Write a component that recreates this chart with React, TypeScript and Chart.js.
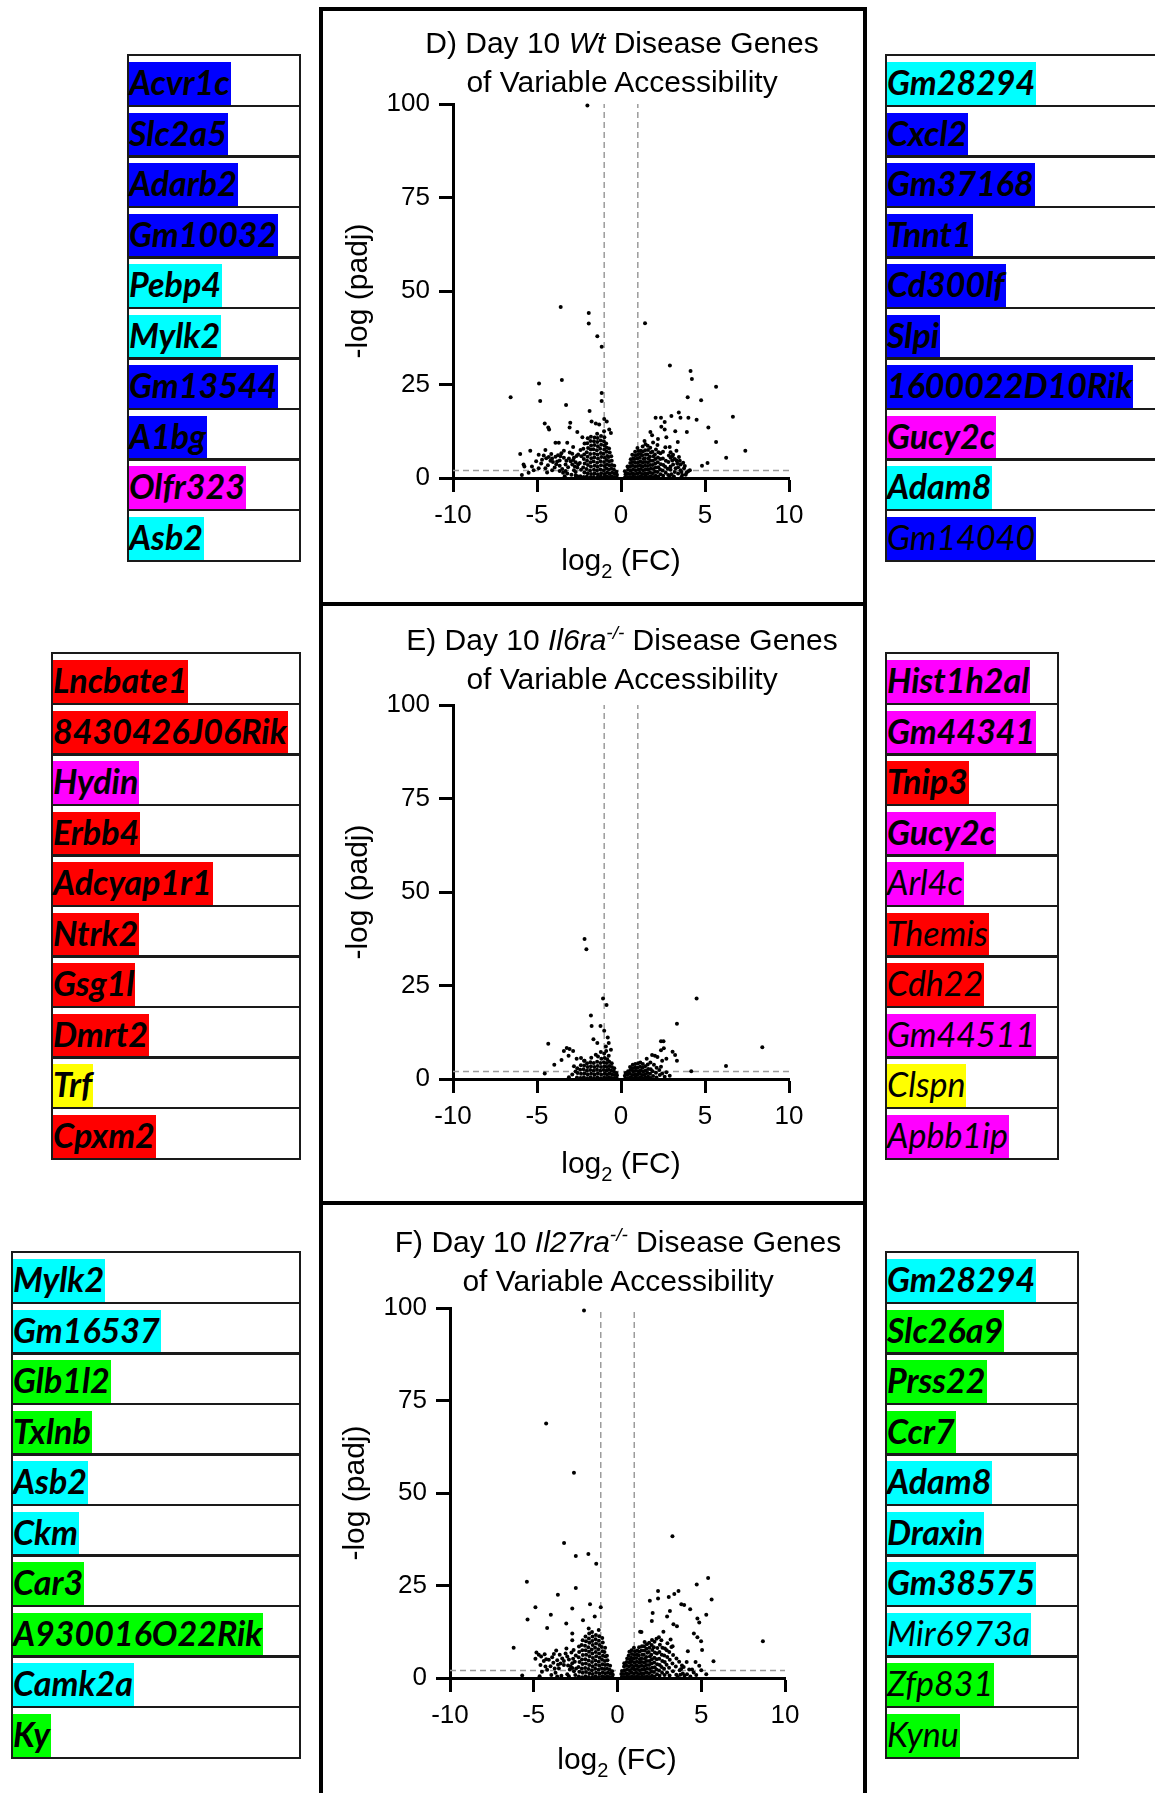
import React, { useEffect, useRef } from 'react';
import { Chart, registerables } from 'chart.js';

Chart.register(...registerables);

// ---------------- axis values ----------------
const X_MIN = -10;
const X_MAX = 10;
const X_STEP = 5;
const Y_MIN = 0;
const Y_MAX = 100;
const Y_STEP = 25;
const FC_CUTS = [-1, 1];
const P_CUT = 2;

// ---------------- gene tables ----------------
const dLeftGenes = ['Acvr1c', 'Slc2a5', 'Adarb2', 'Gm10032', 'Pebp4', 'Mylk2', 'Gm13544', 'A1bg', 'Olfr323', 'Asb2'];
const dLeftColors = ['B', 'B', 'B', 'B', 'C', 'C', 'B', 'B', 'M', 'C'];
const dLeftBold = [1, 1, 1, 1, 1, 1, 1, 1, 1, 1];

const dRightGenes = ['Gm28294', 'Cxcl2', 'Gm37168', 'Tnnt1', 'Cd300lf', 'Slpi', '1600022D10Rik', 'Gucy2c', 'Adam8', 'Gm14040'];
const dRightColors = ['C', 'B', 'B', 'B', 'B', 'B', 'B', 'M', 'C', 'B'];
const dRightBold = [1, 1, 1, 1, 1, 1, 1, 1, 1, 0];

const eLeftGenes = ['Lncbate1', '8430426J06Rik', 'Hydin', 'Erbb4', 'Adcyap1r1', 'Ntrk2', 'Gsg1l', 'Dmrt2', 'Trf', 'Cpxm2'];
const eLeftColors = ['R', 'R', 'M', 'R', 'R', 'R', 'R', 'R', 'Y', 'R'];
const eLeftBold = [1, 1, 1, 1, 1, 1, 1, 1, 1, 1];

const eRightGenes = ['Hist1h2al', 'Gm44341', 'Tnip3', 'Gucy2c', 'Arl4c', 'Themis', 'Cdh22', 'Gm44511', 'Clspn', 'Apbb1ip'];
const eRightColors = ['M', 'M', 'R', 'M', 'M', 'R', 'R', 'M', 'Y', 'M'];
const eRightBold = [1, 1, 1, 1, 0, 0, 0, 0, 0, 0];

const fLeftGenes = ['Mylk2', 'Gm16537', 'Glb1l2', 'Txlnb', 'Asb2', 'Ckm', 'Car3', 'A930016O22Rik', 'Camk2a', 'Ky'];
const fLeftColors = ['C', 'C', 'G', 'G', 'C', 'C', 'G', 'G', 'C', 'G'];
const fLeftBold = [1, 1, 1, 1, 1, 1, 1, 1, 1, 1];

const fRightGenes = ['Gm28294', 'Slc26a9', 'Prss22', 'Ccr7', 'Adam8', 'Draxin', 'Gm38575', 'Mir6973a', 'Zfp831', 'Kynu'];
const fRightColors = ['C', 'G', 'G', 'G', 'C', 'C', 'C', 'C', 'G', 'G'];
const fRightBold = [1, 1, 1, 1, 1, 1, 1, 0, 0, 0];

// ---------------- volcano data: [log2FC, -log padj] ----------------
const dOutliers = [
  [-2.0, 99.6], [-3.59, 45.7], [-1.92, 44.1], [-1.92, 41.3], [-1.41, 37.9], [-1.15, 35.1], [1.43, 41.4],
  [2.91, 30.1], [4.14, 28.6], [4.22, 26.5], [5.66, 24.4], [-3.52, 26.2], [-4.88, 25.3], [-6.57, 21.6],
  [-4.81, 20.6], [-3.27, 19.5], [-1.15, 22.7], [-1.15, 20.6], [3.97, 21.6], [4.77, 20.8], [6.66, 16.4],
  [5.2, 13.5], [5.66, 9.6], [6.26, 5.4], [7.4, 7.3], [5.15, 4.0], [4.82, 3.3], [-4.54, 14.6], [-4.33, 13.5],
  [-4.28, 13.0], [-3.02, 14.8], [-3.06, 13.5], [-1.87, 17.9], [3.44, 17.5], [3.54, 16.1], [4.01, 16.1],
  [4.5, 15.6], [3.23, 12.5], [3.92, 12.3], [3.38, 9.6], [2.06, 16.1], [2.38, 16.1], [3.0, 16.6], [2.6, 15.0],
  [1.75, 12.3], [2.4, 13.7], [2.6, 13.0], [2.7, 10.9], [1.85, 11.4], [1.4, 9.9], [2.2, 10.4], [-2.6, 12.3],
  [-2.3, 10.9], [-1.75, 15.1], [-1.5, 14.6], [-1.3, 14.3], [-1.0, 15.8], [-0.85, 15.1], [-0.7, 13.0],
  [-0.6, 12.0], [-3.7, 9.4], [-3.9, 9.4], [-3.2, 9.4], [-2.85, 8.3], [-3.4, 7.3],
];
const dLeftSparse = [
  [-6.0, 6.4], [-5.4, 7.3], [-5.8, 3.6], [-5.75, 3.1], [-5.9, 0.8], [-5.3, 3.1], [-5.2, 2.1], [-4.9, 6.2],
  [-4.5, 7.5], [-4.3, 5.6], [-4.1, 5.2], [-3.9, 5.7], [-3.65, 4.7], [-3.4, 5.4], [-3.1, 5.2], [-2.8, 5.4],
  [-3.65, 3.3], [-3.3, 3.6], [-2.9, 3.6], [-2.7, 4.2], [-4.9, 2.6], [-4.5, 2.6], [-4.1, 2.1], [-3.65, 1.9],
  [-3.2, 1.2], [-2.7, 1.6], [-4.2, 4.6], [-3.8, 4.4], [-3.0, 4.5], [-2.6, 2.8], [-3.5, 2.4], [-4.4, 1.5],
  [-2.95, 0.9], [-3.35, 0.5], [-2.55, 6.3], [-3.05, 6.8], [-4.7, 4.9], [-5.5, 1.4], [-2.75, 3.1],
  [-3.85, 3.7], [-4.6, 6.0], [-2.6, 0.5],
  [-4.75, 3.9], [-4.35, 3.4], [-4.05, 4.3], [-3.75, 6.1], [-3.55, 6.6], [-3.25, 4.6], [-3.15, 2.9],
  [-2.85, 4.8], [-2.65, 5.9], [-2.55, 3.6], [-4.15, 6.4], [-3.95, 2.8], [-3.45, 1.4], [-2.8, 2.1],
  [-5.05, 4.5], [-4.45, 5.3], [-3.6, 5.8], [-2.9, 6.5], [-3.3, 1.9], [-2.7, 0.7],
];
const dLeftBlob = [
  [-2.42, 0.5], [-2.38, 2.2], [-2.45, 4.0], [-2.36, 5.8], [-2.41, 7.5],
  [-2.22, 0.3], [-2.18, 1.5], [-2.25, 2.8], [-2.16, 3.9], [-2.21, 5.1], [-2.19, 6.3], [-2.24, 7.8], [-2.17, 9.2],
  [-2.03, 0.4], [-1.98, 1.3], [-2.05, 2.4], [-1.97, 3.5], [-2.02, 4.6], [-1.99, 5.7], [-2.04, 6.9], [-1.96, 8.0], [-2.01, 9.3], [-1.98, 10.6],
  [-1.82, 0.2], [-1.78, 1.1], [-1.84, 2.0], [-1.79, 3.1], [-1.81, 4.2], [-1.77, 5.3], [-1.83, 6.4], [-1.8, 7.6], [-1.78, 8.7], [-1.82, 9.9], [-1.79, 11.0],
  [-1.62, 0.3], [-1.58, 1.2], [-1.61, 2.2], [-1.57, 3.3], [-1.63, 4.4], [-1.59, 5.5], [-1.6, 6.5], [-1.64, 7.7], [-1.58, 8.8], [-1.61, 9.8], [-1.57, 10.8],
  [-1.41, 0.2], [-1.38, 1.0], [-1.43, 2.0], [-1.39, 3.0], [-1.42, 4.1], [-1.37, 5.2], [-1.4, 6.3], [-1.44, 7.4], [-1.38, 8.5], [-1.41, 9.6], [-1.39, 10.7], [-1.42, 11.8],
  [-1.21, 0.4], [-1.18, 1.3], [-1.23, 2.3], [-1.19, 3.4], [-1.22, 4.5], [-1.17, 5.6], [-1.2, 6.7], [-1.24, 7.8], [-1.18, 8.9], [-1.21, 10.0], [-1.19, 11.2],
  [-1.02, 0.3], [-0.98, 1.1], [-1.03, 2.1], [-0.99, 3.2], [-1.01, 4.3], [-0.97, 5.4], [-1.04, 6.5], [-1.0, 7.6], [-0.98, 8.7], [-1.02, 9.8], [-0.99, 10.9], [-1.01, 12.5],
  [-0.86, 0.5], [-0.83, 1.5], [-0.87, 2.6], [-0.84, 3.7], [-0.85, 4.8], [-0.82, 5.9], [-0.86, 7.0], [-0.84, 8.1], [-0.88, 9.2],
  [-0.71, 0.3], [-0.68, 1.2], [-0.72, 2.3], [-0.69, 3.4], [-0.7, 4.5], [-0.73, 5.6], [-0.67, 6.8], [-0.71, 7.9],
  [-0.56, 0.4], [-0.53, 1.4], [-0.57, 2.5], [-0.54, 3.5], [-0.55, 4.6], [-0.58, 5.8],
  [-0.41, 0.3], [-0.38, 1.2], [-0.42, 2.2], [-0.4, 3.3],
  [-0.26, 0.2], [-0.24, 0.9], [-0.27, 1.7],
];
const dRightBlob = [
  [0.24, 0.2], [0.27, 1.0], [0.23, 1.8],
  [0.41, 0.3], [0.38, 1.2], [0.42, 2.2], [0.39, 3.1],
  [0.56, 0.2], [0.53, 1.1], [0.57, 2.0], [0.54, 3.0], [0.55, 4.0], [0.58, 5.0],
  [0.71, 0.4], [0.68, 1.3], [0.72, 2.3], [0.69, 3.3], [0.7, 4.3], [0.73, 5.3], [0.67, 6.2],
  [0.86, 0.2], [0.83, 1.1], [0.87, 2.1], [0.84, 3.1], [0.85, 4.1], [0.82, 5.1], [0.86, 6.1], [0.84, 7.0],
  [1.01, 0.3], [0.98, 1.2], [1.03, 2.2], [0.99, 3.2], [1.02, 4.2], [0.97, 5.2], [1.0, 6.2], [1.04, 7.2], [0.98, 8.0],
  [1.16, 0.5], [1.13, 1.4], [1.17, 2.4], [1.14, 3.4], [1.15, 4.4], [1.12, 5.4], [1.16, 6.4], [1.18, 7.3],
  [1.31, 0.2], [1.28, 1.1], [1.32, 2.1], [1.29, 3.1], [1.3, 4.1], [1.33, 5.1], [1.27, 6.1], [1.31, 7.1], [1.29, 8.4],
  [1.46, 0.4], [1.43, 1.3], [1.47, 2.3], [1.44, 3.3], [1.45, 4.3], [1.42, 5.3], [1.48, 6.3], [1.44, 7.4], [1.46, 9.0],
  [1.61, 0.3], [1.58, 1.2], [1.62, 2.2], [1.59, 3.2], [1.6, 4.2], [1.63, 5.2], [1.57, 6.3], [1.61, 7.5], [1.59, 8.6],
  [1.76, 0.5], [1.73, 1.5], [1.77, 2.5], [1.74, 3.5], [1.75, 4.6], [1.72, 5.7], [1.78, 6.8], [1.74, 8.1],
  [1.91, 0.3], [1.88, 1.3], [1.92, 2.4], [1.89, 3.5], [1.9, 4.6], [1.93, 5.8], [1.87, 7.0], [1.91, 9.5],
  [2.06, 0.6], [2.03, 1.7], [2.07, 2.8], [2.04, 3.9], [2.05, 5.1], [2.02, 6.3], [2.08, 7.6],
  [2.21, 0.4], [2.18, 1.6], [2.22, 2.9], [2.19, 4.2], [2.2, 5.5], [2.23, 6.9], [2.17, 8.8],
  [2.36, 1.0], [2.33, 2.3], [2.37, 3.7], [2.34, 5.1], [2.35, 6.6],
  [2.51, 0.6], [2.48, 2.0], [2.52, 3.5], [2.49, 5.2], [2.5, 7.0],
  [2.66, 1.4], [2.63, 3.0], [2.67, 4.6], [2.64, 8.2],
  [2.81, 0.8], [2.78, 2.5], [2.82, 4.3],
];
const dRightSparse = [
  [2.9, 8.3], [3.1, 6.2], [3.3, 4.7], [3.55, 3.6], [3.75, 2.6], [2.95, 3.1], [3.2, 1.6], [3.65, 0.8],
  [3.55, 2.1], [4.1, 2.1], [3.05, 4.7], [3.3, 7.3], [2.85, 6.0], [3.0, 1.0], [3.4, 2.9], [3.15, 0.4],
  [3.9, 1.4], [2.95, 5.4], [3.45, 5.6], [3.7, 4.1],
  [2.95, 2.2], [3.1, 3.6], [3.25, 2.6], [3.4, 1.2], [3.6, 1.6], [3.8, 3.2], [2.9, 0.3], [3.05, 5.8],
  [3.35, 3.9], [3.5, 4.6], [3.2, 5.1], [2.95, 6.9], [3.6, 0.3], [3.85, 0.9], [4.0, 1.8],
];

const eOutliers = [
  [-2.17, 37.4], [-2.06, 34.7], [-1.07, 21.5], [-0.86, 19.8], [-1.79, 17.0], [-1.75, 14.2], [-1.22, 14.2],
  [-1.0, 12.9], [-1.64, 10.6], [-1.41, 9.6], [-0.79, 11.1], [-0.73, 9.6], [-4.33, 9.4], [-3.97, 3.8],
  [-3.54, 5.1], [-3.4, 7.5], [-3.23, 8.3], [-3.06, 8.0], [-2.85, 7.5], [-3.12, 6.2], [-2.64, 5.4],
  [-2.38, 5.6], [-4.54, 1.5], [-2.17, 4.9], [-0.9, 8.7], [-0.6, 7.8], [-1.2, 7.2], [-1.5, 6.5],
  [-2.7, 2.0], [-2.9, 1.2], [-3.1, 0.5], [-2.8, 3.4],
  [4.5, 21.5], [3.33, 14.8], [8.41, 8.5], [6.25, 3.5], [4.18, 2.1], [2.38, 10.1], [2.53, 10.1],
  [2.38, 7.7], [3.07, 7.3], [3.22, 6.4], [3.33, 4.9], [2.7, 5.4], [1.85, 6.4], [2.02, 6.2], [2.17, 5.9],
  [1.53, 5.4], [1.75, 4.4], [2.38, 3.3], [2.7, 1.8], [1.96, 3.8], [2.55, 8.2], [2.45, 4.9], [2.6, 0.6],
  [2.9, 0.9], [2.45, 1.5],
];
const eLeftBlob = [
  [-2.62, 0.4], [-2.58, 1.6], [-2.6, 2.9],
  [-2.41, 0.3], [-2.38, 1.4], [-2.43, 2.5], [-2.39, 3.7],
  [-2.21, 0.5], [-2.18, 1.5], [-2.23, 2.6], [-2.19, 3.6], [-2.2, 4.9],
  [-2.01, 0.2], [-1.98, 1.2], [-2.03, 2.2], [-1.99, 3.2], [-2.02, 4.2],
  [-1.81, 0.4], [-1.78, 1.4], [-1.83, 2.4], [-1.79, 3.4], [-1.82, 4.5], [-1.77, 5.7],
  [-1.61, 0.3], [-1.58, 1.2], [-1.63, 2.2], [-1.59, 3.2], [-1.62, 4.3],
  [-1.41, 0.5], [-1.38, 1.5], [-1.43, 2.5], [-1.39, 3.5], [-1.42, 4.6], [-1.37, 6.0],
  [-1.21, 0.2], [-1.18, 1.2], [-1.23, 2.2], [-1.19, 3.2], [-1.22, 4.3], [-1.17, 5.4],
  [-1.01, 0.4], [-0.98, 1.4], [-1.03, 2.4], [-0.99, 3.4], [-1.02, 4.5], [-0.97, 5.6], [-1.0, 6.8],
  [-0.86, 0.3], [-0.83, 1.2], [-0.87, 2.2], [-0.84, 3.2], [-0.85, 4.3], [-0.82, 5.3], [-0.88, 7.5],
  [-0.71, 0.5], [-0.68, 1.5], [-0.72, 2.5], [-0.69, 3.5], [-0.7, 4.6], [-0.73, 6.2],
  [-0.56, 0.3], [-0.53, 1.2], [-0.57, 2.2], [-0.54, 3.2], [-0.55, 4.2],
  [-0.41, 0.2], [-0.38, 1.1], [-0.42, 2.0], [-0.4, 2.9],
  [-0.26, 0.3], [-0.24, 1.0], [-0.27, 1.6],
];
const eRightBlob = [
  [0.26, 0.2], [0.23, 0.9], [0.27, 1.6],
  [0.41, 0.3], [0.38, 1.2], [0.42, 2.1],
  [0.56, 0.5], [0.53, 1.4], [0.57, 2.4], [0.54, 3.2],
  [0.71, 0.2], [0.68, 1.1], [0.72, 2.0], [0.69, 2.9], [0.7, 3.8],
  [0.86, 0.4], [0.83, 1.3], [0.87, 2.2], [0.84, 3.1], [0.85, 4.0],
  [1.01, 0.3], [0.98, 1.2], [1.03, 2.1], [0.99, 3.0], [1.02, 4.2],
  [1.16, 0.5], [1.13, 1.4], [1.17, 2.3], [1.14, 3.3], [1.15, 4.4],
  [1.31, 0.2], [1.28, 1.1], [1.32, 2.0], [1.29, 3.0], [1.3, 4.0],
  [1.46, 0.4], [1.43, 1.3], [1.47, 2.3], [1.44, 3.4],
  [1.61, 0.6], [1.58, 1.6], [1.62, 2.7], [1.59, 3.9],
  [1.76, 0.3], [1.73, 1.4], [1.77, 2.6],
  [1.91, 0.8], [1.88, 2.1],
  [2.11, 0.4], [2.08, 1.7], [2.12, 3.0],
  [2.31, 1.1], [2.28, 2.4],
];

const fOutliers = [
  [-2.0, 99.3], [-4.26, 68.8], [-2.6, 55.5], [-3.19, 36.5], [-2.49, 33.0], [-1.74, 33.5], [-1.27, 30.9],
  [3.28, 38.3], [-5.41, 26.0], [-2.49, 24.3], [-3.56, 22.5], [-4.9, 19.1], [-5.37, 15.8], [-3.98, 17.1],
  [-4.2, 13.5], [-2.7, 18.8], [-1.64, 19.9], [-1.0, 19.1], [-2.06, 15.6], [-3.06, 14.7], [-1.36, 16.6],
  [-2.7, 12.0], [-2.7, 10.2], [-6.2, 8.2], [5.41, 27.0], [4.73, 25.3], [5.62, 21.2], [2.42, 23.5],
  [3.06, 21.9], [3.39, 22.7], [3.64, 23.5], [1.93, 20.9], [2.42, 21.5], [3.81, 19.9], [3.98, 19.7],
  [4.34, 18.6], [4.77, 16.1], [4.88, 15.0], [5.3, 17.1], [4.56, 12.0], [4.77, 11.0], [4.99, 9.9],
  [5.05, 7.6], [8.68, 9.9], [5.73, 4.5], [4.88, 3.3], [4.66, 4.3], [4.2, 7.2], [4.13, 4.3], [4.28, 2.3],
  [4.45, 2.3], [3.13, 18.1], [2.96, 16.6], [3.34, 14.5], [3.55, 14.0], [2.74, 12.5], [3.17, 10.4],
  [3.22, 8.4], [2.1, 17.6], [2.05, 15.4], [1.35, 12.5],
];
const fLeftSparse = [
  [-4.84, 6.9], [-4.56, 5.8], [-4.26, 5.1], [-3.66, 7.4], [-3.45, 6.3], [-3.83, 4.1], [-4.51, 1.7],
  [-5.69, 0.7], [-4.7, 6.3], [-4.4, 4.6], [-4.0, 3.2], [-3.9, 5.6], [-3.6, 4.8], [-3.3, 5.3], [-3.1, 6.6],
  [-2.9, 5.0], [-2.7, 4.0], [-3.5, 2.6], [-3.2, 3.5], [-2.85, 2.3], [-3.7, 1.4], [-4.2, 2.2], [-3.0, 1.0],
  [-2.6, 1.8], [-3.35, 0.6], [-2.75, 6.9], [-3.05, 8.0], [-3.95, 0.8], [-4.65, 0.5], [-2.62, 7.6],
  [-3.4, 3.9], [-2.95, 3.4],
  [-4.9, 5.2], [-4.6, 3.5], [-4.35, 6.4], [-4.1, 4.9], [-3.8, 6.5], [-3.55, 3.6], [-3.2, 4.6],
  [-3.0, 5.8], [-2.8, 3.2], [-2.65, 5.2], [-3.75, 2.6], [-4.3, 3.1], [-2.9, 0.5], [-3.6, 0.4], [-2.7, 2.7],
];
const fLeftBlob = [
  [-2.52, 0.8], [-2.47, 2.6], [-2.55, 4.4], [-2.49, 6.1],
  [-2.31, 0.4], [-2.28, 1.7], [-2.33, 3.0], [-2.27, 4.3], [-2.32, 5.6], [-2.29, 7.0], [-2.3, 8.5],
  [-2.11, 0.2], [-2.08, 1.4], [-2.13, 2.6], [-2.09, 3.8], [-2.12, 5.0], [-2.07, 6.2], [-2.1, 7.5], [-2.14, 8.9], [-2.08, 10.2],
  [-1.91, 0.5], [-1.88, 1.6], [-1.93, 2.7], [-1.89, 3.9], [-1.92, 5.1], [-1.87, 6.3], [-1.9, 7.5], [-1.94, 8.7], [-1.88, 9.9], [-1.91, 11.2],
  [-1.71, 0.3], [-1.68, 1.3], [-1.73, 2.4], [-1.69, 3.5], [-1.72, 4.7], [-1.67, 5.9], [-1.7, 7.1], [-1.74, 8.3], [-1.68, 9.5], [-1.71, 10.7], [-1.69, 12.0], [-1.72, 13.4],
  [-1.51, 0.2], [-1.48, 1.1], [-1.53, 2.1], [-1.49, 3.2], [-1.52, 4.3], [-1.47, 5.4], [-1.5, 6.6], [-1.54, 7.7], [-1.48, 8.9], [-1.51, 10.0], [-1.49, 11.2], [-1.52, 12.4],
  [-1.31, 0.4], [-1.28, 1.4], [-1.33, 2.5], [-1.29, 3.6], [-1.32, 4.7], [-1.27, 5.9], [-1.3, 7.0], [-1.34, 8.2], [-1.28, 9.3], [-1.31, 10.5], [-1.29, 11.6],
  [-1.11, 0.3], [-1.08, 1.2], [-1.13, 2.2], [-1.09, 3.3], [-1.12, 4.4], [-1.07, 5.5], [-1.1, 6.6], [-1.14, 7.8], [-1.08, 8.9], [-1.11, 10.1], [-1.09, 11.3], [-1.12, 13.0],
  [-0.91, 0.5], [-0.88, 1.5], [-0.93, 2.6], [-0.89, 3.7], [-0.92, 4.9], [-0.87, 6.0], [-0.9, 7.2], [-0.94, 8.4], [-0.88, 9.6], [-0.91, 10.8],
  [-0.76, 0.3], [-0.73, 1.3], [-0.77, 2.4], [-0.74, 3.5], [-0.75, 4.6], [-0.72, 5.8], [-0.78, 7.0], [-0.74, 8.2],
  [-0.61, 0.4], [-0.58, 1.4], [-0.62, 2.5], [-0.59, 3.6], [-0.6, 4.8], [-0.63, 6.0],
  [-0.46, 0.3], [-0.43, 1.2], [-0.47, 2.2], [-0.44, 3.3],
  [-0.31, 0.2], [-0.28, 0.9], [-0.32, 1.8],
];
const fRightBlob = [
  [0.26, 0.3], [0.23, 1.1], [0.27, 1.9],
  [0.41, 0.2], [0.38, 1.1], [0.42, 2.1], [0.39, 3.1], [0.4, 4.0],
  [0.56, 0.4], [0.53, 1.3], [0.57, 2.3], [0.54, 3.3], [0.55, 4.3], [0.58, 5.3],
  [0.71, 0.2], [0.68, 1.1], [0.72, 2.1], [0.69, 3.1], [0.7, 4.1], [0.73, 5.1], [0.67, 6.1], [0.71, 7.1],
  [0.86, 0.5], [0.83, 1.5], [0.87, 2.5], [0.84, 3.5], [0.85, 4.5], [0.82, 5.5], [0.86, 6.5], [0.84, 7.5],
  [1.01, 0.3], [0.98, 1.2], [1.03, 2.2], [0.99, 3.2], [1.02, 4.2], [0.97, 5.2], [1.0, 6.2], [1.04, 7.2], [0.98, 8.2],
  [1.16, 0.5], [1.13, 1.4], [1.17, 2.4], [1.14, 3.4], [1.15, 4.4], [1.12, 5.4], [1.16, 6.4], [1.18, 7.4],
  [1.31, 0.2], [1.28, 1.1], [1.32, 2.1], [1.29, 3.1], [1.3, 4.1], [1.33, 5.1], [1.27, 6.1], [1.31, 7.1], [1.29, 8.3],
  [1.46, 0.4], [1.43, 1.3], [1.47, 2.3], [1.44, 3.3], [1.45, 4.3], [1.42, 5.3], [1.48, 6.3], [1.44, 7.4], [1.46, 8.6], [1.43, 12.4],
  [1.61, 0.3], [1.58, 1.2], [1.62, 2.2], [1.59, 3.2], [1.6, 4.2], [1.63, 5.2], [1.57, 6.3], [1.61, 7.4], [1.59, 8.6], [1.62, 9.7],
  [1.76, 0.5], [1.73, 1.5], [1.77, 2.5], [1.74, 3.5], [1.75, 4.6], [1.72, 5.7], [1.78, 6.8], [1.74, 7.9], [1.76, 9.1],
  [1.91, 0.3], [1.88, 1.3], [1.92, 2.4], [1.89, 3.5], [1.9, 4.6], [1.93, 5.8], [1.87, 7.0], [1.91, 8.2], [1.89, 9.5],
  [2.06, 0.6], [2.03, 1.7], [2.07, 2.8], [2.04, 3.9], [2.05, 5.1], [2.02, 6.3], [2.08, 7.6], [2.04, 8.9], [2.06, 10.3],
  [2.21, 0.4], [2.18, 1.6], [2.22, 2.9], [2.19, 4.2], [2.2, 5.5], [2.23, 6.9], [2.17, 8.3], [2.21, 9.8],
  [2.36, 1.0], [2.33, 2.3], [2.37, 3.7], [2.34, 5.1], [2.35, 6.6], [2.38, 8.1], [2.33, 10.6],
  [2.51, 0.6], [2.48, 2.0], [2.52, 3.5], [2.49, 5.2], [2.5, 7.0], [2.53, 9.0], [2.47, 11.0],
  [2.66, 1.4], [2.63, 3.0], [2.67, 4.6], [2.64, 6.3], [2.68, 8.2], [2.62, 10.2],
  [2.81, 0.8], [2.78, 2.5], [2.82, 4.3], [2.79, 6.1], [2.83, 8.0],
  [2.96, 1.5], [2.93, 3.6], [2.97, 5.7], [2.94, 7.5], [2.98, 9.4],
  [3.11, 0.7], [3.08, 2.8], [3.12, 4.9], [3.09, 7.0],
  [3.31, 1.8], [3.28, 3.9], [3.32, 6.2], [3.29, 8.6],
  [3.51, 0.9], [3.48, 3.1], [3.52, 5.3],
  [3.71, 2.1], [3.68, 4.4],
];
const fRightSparse = [
  [3.9, 1.2], [4.0, 0.6], [3.85, 3.4], [5.0, 2.1], [5.3, 1.0], [4.55, 1.5], [4.7, 0.8],
  [3.6, 0.3], [3.8, 2.4], [3.95, 3.0], [4.15, 1.0], [4.35, 0.4], [3.75, 0.9],
];

// ---------------- styles / layout ----------------
const HIGHLIGHT: Record<string, string> = {
  B: '#0000ff', C: '#00ffff', M: '#ff00ff', R: '#ff0000', Y: '#ffff00', G: '#00ff00',
};
const AXIS_FONT = '"Liberation Sans", Arial, Helvetica, sans-serif';
const GENE_FONT = 'Lato, "Open Sans", sans-serif';
const AXIS_W = 120;
const AXIS_H = 70;
const PAD_T = 34;
const PAD_R = 32;
const ROW_H = 50.5;

type Pt = number[];

function Volcano(props: { points: Pt[]; left: number; top: number; w: number; h: number }) {
  const ref = useRef<HTMLCanvasElement>(null);
  const cw = AXIS_W + props.w + PAD_R;
  const ch = PAD_T + props.h + AXIS_H;
  useEffect(() => {
    if (!ref.current) return;
    const dash = { borderColor: '#9c9c9c', borderWidth: 1.5, borderDash: [6, 4], pointRadius: 0, showLine: true, fill: false, order: 1, clip: false } as any;
    const chart = new Chart(ref.current, {
      type: 'scatter',
      data: {
        datasets: [
          {
            data: props.points.map((p) => ({ x: p[0], y: p[1] })),
            pointRadius: 2,
            pointHoverRadius: 2,
            pointBackgroundColor: '#000',
            pointBorderWidth: 0,
            borderWidth: 0,
            clip: false,
            order: 0,
          } as any,
          { ...dash, type: 'line', data: [{ x: FC_CUTS[0], y: Y_MIN }, { x: FC_CUTS[0], y: Y_MAX }] },
          { ...dash, type: 'line', data: [{ x: FC_CUTS[1], y: Y_MIN }, { x: FC_CUTS[1], y: Y_MAX }] },
          { ...dash, type: 'line', data: [{ x: X_MIN, y: P_CUT }, { x: X_MAX, y: P_CUT }] },
        ],
      },
      options: {
        animation: false,
        responsive: false,
        devicePixelRatio: 1,
        events: [],
        layout: { autoPadding: false, padding: { left: 0, top: PAD_T, right: PAD_R, bottom: 0 } },
        plugins: { legend: { display: false }, tooltip: { enabled: false }, title: { display: false } },
        scales: {
          x: {
            type: 'linear',
            min: X_MIN,
            max: X_MAX,
            afterFit: (s: any) => { s.height = AXIS_H; },
            ticks: { stepSize: X_STEP, autoSkip: false, maxRotation: 0, color: '#000', padding: 8, font: { family: AXIS_FONT, size: 26 } },
            grid: { display: true, drawOnChartArea: false, drawTicks: true, tickLength: 14, tickWidth: 3, tickColor: '#000' },
            border: { display: true, color: '#000', width: 3 },
          },
          y: {
            type: 'linear',
            min: Y_MIN,
            max: Y_MAX,
            afterFit: (s: any) => { s.width = AXIS_W; },
            ticks: { stepSize: Y_STEP, autoSkip: false, color: '#000', padding: 9, font: { family: AXIS_FONT, size: 26 } },
            grid: { display: true, drawOnChartArea: false, drawTicks: true, tickLength: 14, tickWidth: 3, tickColor: '#000' },
            border: { display: true, color: '#000', width: 3 },
          },
        },
      } as any,
    });
    return () => chart.destroy();
  }, []);
  return (
    <canvas
      ref={ref}
      width={cw}
      height={ch}
      style={{ position: 'absolute', left: props.left - AXIS_W, top: props.top - PAD_T, width: cw, height: ch }}
    />
  );
}

function GeneTable(props: { genes: string[]; colors: string[]; bold: number[]; left: number; top: number; width: number }) {
  return (
    <div style={{ position: 'absolute', left: props.left, top: props.top, width: props.width, height: ROW_H * props.genes.length + 2 }}>
      {props.genes.map((g, i) => (
        <div
          key={i}
          style={{
            position: 'absolute',
            left: 0,
            top: i * ROW_H,
            width: props.width,
            height: ROW_H + 2.5,
            border: '2.5px solid #1a1a1a',
            boxSizing: 'border-box',
          }}
        >
          <span
            style={{
              position: 'absolute',
              left: 0,
              bottom: 0,
              height: 43,
              lineHeight: '40px',
              paddingRight: 1,
              background: HIGHLIGHT[props.colors[i]],
              fontFamily: GENE_FONT,
              fontStyle: 'italic',
              fontWeight: props.bold[i] ? 700 : 400,
              fontSize: 34,
              color: '#000',
              whiteSpace: 'nowrap',
            }}
          >
            {g}
          </span>
        </div>
      ))}
    </div>
  );
}

function PanelText(props: { title: React.ReactNode; titleCx: number; titleTop: number; xCx: number; xCy: number; yCx: number; yCy: number }) {
  const base = { position: 'absolute' as const, fontFamily: AXIS_FONT, color: '#000', whiteSpace: 'nowrap' as const, textAlign: 'center' as const };
  return (
    <>
      <div style={{ ...base, left: props.titleCx - 260, width: 520, top: props.titleTop, fontSize: 30, lineHeight: '39px' }}>
        <div style={{ height: 39 }}>{props.title}</div>
        <div style={{ height: 39 }}>of Variable Accessibility</div>
      </div>
      <div style={{ ...base, left: props.xCx - 120, width: 240, top: props.xCy - 20, fontSize: 30, lineHeight: '40px' }}>
        log<span style={{ fontSize: 20, position: 'relative', top: 8, lineHeight: 0 }}>2</span> (FC)
      </div>
      <div
        style={{
          ...base,
          left: props.yCx - 120,
          width: 240,
          top: props.yCy - 20,
          height: 40,
          fontSize: 30,
          lineHeight: '40px',
          transform: 'rotate(-90deg)',
        }}
      >
        -log (padj)
      </div>
    </>
  );
}

const sup = { fontSize: 19, position: 'relative' as const, top: -11, lineHeight: 0, fontStyle: 'italic' as const };

export default function App() {
  const dPoints = [...dOutliers, ...dLeftSparse, ...dLeftBlob, ...dRightBlob, ...dRightSparse];
  const ePoints = [...eOutliers, ...eLeftBlob, ...eRightBlob];
  const fPoints = [...fOutliers, ...fLeftSparse, ...fLeftBlob, ...fRightBlob, ...fRightSparse];
  return (
    <div style={{ position: 'absolute', left: 0, top: 0, width: 1155, height: 1793, overflow: 'hidden', background: '#fff' }}>
      {/* frame */}
      <div style={{ position: 'absolute', left: 319, top: 7, width: 548, height: 1900, border: '4px solid #000', boxSizing: 'border-box' }} />
      <div style={{ position: 'absolute', left: 319, top: 602, width: 548, height: 4, background: '#000' }} />
      <div style={{ position: 'absolute', left: 319, top: 1201, width: 548, height: 4, background: '#000' }} />

      <GeneTable genes={dLeftGenes} colors={dLeftColors} bold={dLeftBold} left={127} top={54} width={174} />
      <GeneTable genes={dRightGenes} colors={dRightColors} bold={dRightBold} left={885} top={54} width={320} />
      <GeneTable genes={eLeftGenes} colors={eLeftColors} bold={eLeftBold} left={51} top={652} width={250} />
      <GeneTable genes={eRightGenes} colors={eRightColors} bold={eRightBold} left={885} top={652} width={174} />
      <GeneTable genes={fLeftGenes} colors={fLeftColors} bold={fLeftBold} left={11} top={1251} width={290} />
      <GeneTable genes={fRightGenes} colors={fRightColors} bold={fRightBold} left={885} top={1251} width={194} />

      <Volcano points={dPoints} left={453} top={104} w={336} h={374} />
      <Volcano points={ePoints} left={453} top={705} w={336} h={374} />
      <Volcano points={fPoints} left={450} top={1308} w={335} h={370} />

      <PanelText
        title={<>D) Day 10 <i>Wt</i> Disease Genes</>}
        titleCx={622} titleTop={23} xCx={621} xCy={560} yCx={357} yCy={291}
      />
      <PanelText
        title={<>E) Day 10 <i>Il6ra</i><span style={sup}>-/-</span> Disease Genes</>}
        titleCx={622} titleTop={620} xCx={621} xCy={1163} yCx={357} yCy={892}
      />
      <PanelText
        title={<>F) Day 10 <i>Il27ra</i><span style={sup}>-/-</span> Disease Genes</>}
        titleCx={618} titleTop={1222} xCx={617} xCy={1759} yCx={354} yCy={1493}
      />
    </div>
  );
}
